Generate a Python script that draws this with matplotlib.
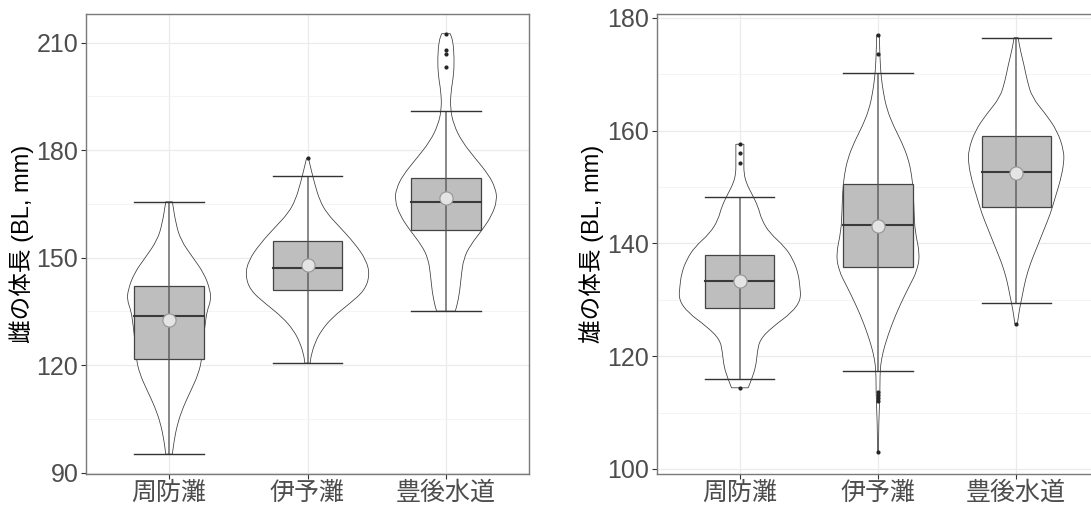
import numpy as np
import matplotlib
matplotlib.use("Agg")
import matplotlib.pyplot as plt
from matplotlib.path import Path
from matplotlib.patches import PathPatch, Rectangle
from matplotlib.ticker import MultipleLocator

plt.rcParams['font.family'] = ['Liberation Sans', 'Noto Sans CJK JP', 'DejaVu Sans']

# ---------------- data ----------------
categories = ['周防灘', '伊予灘', '豊後水道']

# female (left panel)
f_box_low = [121.8, 140.9, 157.7]
f_median = [133.7, 147.0, 165.6]
f_box_high = [142.1, 154.6, 172.3]
f_whisk_low = [95.2, 120.6, 135.1]
f_whisk_high = [165.6, 172.8, 190.8]
f_mean = [132.5, 147.9, 166.7]
f_outliers = [[], [177.7], [212.5, 207.9, 206.9, 203.1]]
f_vio_y = [
    [165.6, 159.6, 154.9, 150.2, 145.6, 140.9, 138.1, 135.3, 131.6, 126.7, 121.8, 117.6, 112.9, 108.3, 103.6, 98.9, 95.2],
    [177.7, 174.5, 170.8, 166.1, 162.4, 158.6, 154.0, 149.3, 145.1, 140.9, 137.2, 133.4, 129.7, 126.0, 122.3, 120.6],
    [212.5, 210.4, 205.7, 201.0, 196.4, 191.7, 187.1, 182.4, 177.7, 173.1, 169.4, 166.1, 161.9, 157.7, 153.5, 149.8, 145.1, 140.4, 136.7, 135.1],
]
f_vio_w = [
    [3.3, 6.7, 11.7, 23.3, 35, 41, 41.7, 38, 36, 34, 32.7, 29.3, 21.7, 14, 8.3, 5, 3.3],
    [1.0, 3.7, 7, 12, 19.3, 32, 47, 58.7, 62, 57, 42, 25, 13.7, 7, 3.3, 2.7],
    [4.3, 7, 8.3, 7.7, 5, 4.3, 7.7, 16, 29.3, 42.7, 49.3, 51, 46, 36, 24.3, 17.7, 15.3, 13.7, 11, 9.3],
]

# male (right panel)
m_box_low = [128.6, 135.8, 146.4]
m_median = [133.4, 143.2, 152.7]
m_box_high = [138.0, 150.5, 159.0]
m_whisk_low = [115.9, 117.4, 129.4]
m_whisk_high = [148.3, 170.2, 176.5]
m_mean = [133.3, 143.1, 152.5]
m_outliers = [[157.6, 156.0, 154.3, 114.4],
              [177.0, 173.6, 113.7, 113.2, 112.6, 112.0, 103.0],
              [125.8]]
m_vio_y = [
    [157.6, 154.7, 152.4, 150.6, 148.9, 146.5, 144.2, 141.8, 139.4, 137.1, 134.7, 132.4, 130.0, 127.7, 125.3, 123.0, 120.6, 118.2, 115.9, 114.4],
    [177.0, 172.7, 169.8, 166.8, 163.9, 160.9, 158.0, 155.0, 152.1, 149.2, 145.6, 142.1, 138.0, 135.0, 132.7, 129.1, 125.6, 122.1, 119.7, 117.4, 113.8, 108.0, 103.0],
    [176.5, 174.2, 171.8, 168.9, 165.9, 163.0, 160.0, 156.5, 154.2, 151.2, 148.3, 145.3, 142.4, 139.4, 136.5, 133.6, 130.6, 128.3, 125.8],
]
m_vio_w = [
    [4, 4, 4, 6.7, 11.7, 18.3, 21.7, 30, 45, 53.3, 58.3, 60, 61, 51.7, 33.3, 20, 17.3, 16, 11.7, 8.3],
    [1.3, 2, 3, 5.3, 8.7, 15.3, 23.7, 30.3, 33.7, 35.3, 36, 37, 42, 38.7, 32, 22, 13.7, 7, 3.7, 2, 2, 0.7, 0.5],
    [2, 4.3, 7.7, 11, 16, 29.3, 41, 47.7, 47.7, 44.3, 39.3, 34.3, 27.7, 21, 14.3, 9.3, 6, 3.3, 1.3],
]

f_ylabel = '雌の体長 (BL, mm)'
m_ylabel = '雄の体長 (BL, mm)'

# ---------------- drawing helpers ----------------
PX_PER_UNIT = 138.0


def smooth_side(xs, ys):
    """quadratic B-spline style path segments through the given points"""
    verts, codes = [], []
    n = len(xs)
    verts.append((xs[0], ys[0])); codes.append(Path.LINETO)
    if n > 2:
        verts.append(((xs[0] + xs[1]) / 2, (ys[0] + ys[1]) / 2)); codes.append(Path.LINETO)
        for i in range(1, n - 1):
            verts.append((xs[i], ys[i])); codes.append(Path.CURVE3)
            verts.append(((xs[i] + xs[i + 1]) / 2, (ys[i] + ys[i + 1]) / 2)); codes.append(Path.CURVE3)
    verts.append((xs[-1], ys[-1])); codes.append(Path.LINETO)
    return verts, codes


def draw_violin(ax, c, ys, ws):
    ys = np.asarray(ys, float)
    ws = np.asarray(ws, float) / PX_PER_UNIT
    v1, c1 = smooth_side(c + ws, ys)
    v2, c2 = smooth_side((c - ws)[::-1], ys[::-1])
    verts = v1 + v2 + [v1[0]]
    codes = c1 + c2 + [Path.CLOSEPOLY]
    codes[0] = Path.MOVETO
    p = PathPatch(Path(verts, codes), facecolor='white', edgecolor='#3a3a3a',
                  lw=0.55, zorder=2)
    ax.add_patch(p)


def draw_panel(ax, box_low, median, box_high, wl, wh, mean, outl, vy, vw, ylim, major, minor):
    xs = np.arange(1, len(categories) + 1)
    for i, c in enumerate(xs):
        draw_violin(ax, c, vy[i], vw[i])
        ax.add_patch(Rectangle((c - 0.25, box_low[i]), 0.5, box_high[i] - box_low[i],
                               facecolor='#BEBEBE', edgecolor='#444444', lw=0.9, zorder=3))
        ax.plot([c, c], [wl[i], wh[i]], color='#555555', lw=1.3, alpha=0.75, zorder=4,
                solid_capstyle='butt')
        ax.plot([c - 0.25, c + 0.25], [wl[i], wl[i]], color='#333333', lw=1.0, zorder=4)
        ax.plot([c - 0.25, c + 0.25], [wh[i], wh[i]], color='#333333', lw=1.0, zorder=4)
        ax.plot([c - 0.25, c + 0.25], [median[i], median[i]], color='#3a3a3a', lw=1.5, zorder=5)
        if outl[i]:
            ax.plot([c] * len(outl[i]), outl[i], 'o', color='#262626', ms=3.0, mew=0, zorder=6)
        ax.plot([c], [mean[i]], 'o', ms=9.5, mfc='#E4E4E4', mec='#9A9A9A', mew=0.9, zorder=7)

    ax.set_xlim(0.4, 3.6)
    ax.set_ylim(*ylim)
    ax.set_xticks(xs)
    ax.set_xticklabels(categories)
    ax.yaxis.set_major_locator(MultipleLocator(major))
    ax.yaxis.set_minor_locator(MultipleLocator(minor))
    ax.grid(True, which='major', color='#EBEBEB', lw=0.9, zorder=0)
    ax.grid(True, which='minor', axis='y', color='#F2F2F2', lw=0.6, zorder=0)
    ax.set_axisbelow(True)
    ax.tick_params(axis='both', which='major', length=3.5, width=0.8, color='#333333',
                   labelcolor='#4D4D4D', labelsize=18, pad=2)
    ax.tick_params(axis='y', which='minor', length=0)
    for s in ax.spines.values():
        s.set_color('#7A7A7A')
        s.set_linewidth(1.0)


fig = plt.figure(figsize=(10.91, 5.05), dpi=100)
W, H = 1091, 505
ax1 = fig.add_axes([86 / W, (H - 473.5) / H, 443 / W, 459.5 / H])
ax2 = fig.add_axes([657 / W, (H - 473.5) / H, 442 / W, 459.5 / H])

draw_panel(ax1, f_box_low, f_median, f_box_high, f_whisk_low, f_whisk_high, f_mean,
           f_outliers, f_vio_y, f_vio_w, (89.8, 218.0), 30, 15)
draw_panel(ax2, m_box_low, m_median, m_box_high, m_whisk_low, m_whisk_high, m_mean,
           m_outliers, m_vio_y, m_vio_w, (99.2, 180.7), 20, 10)

fig.text(22 / W, 1 - 243.5 / H, f_ylabel, rotation=90, ha='center', va='center',
         fontsize=17, color='black')
fig.text(592 / W, 1 - 243.5 / H, m_ylabel, rotation=90, ha='center', va='center',
         fontsize=17, color='black')

fig.savefig('out.png', dpi=100, facecolor='white')
